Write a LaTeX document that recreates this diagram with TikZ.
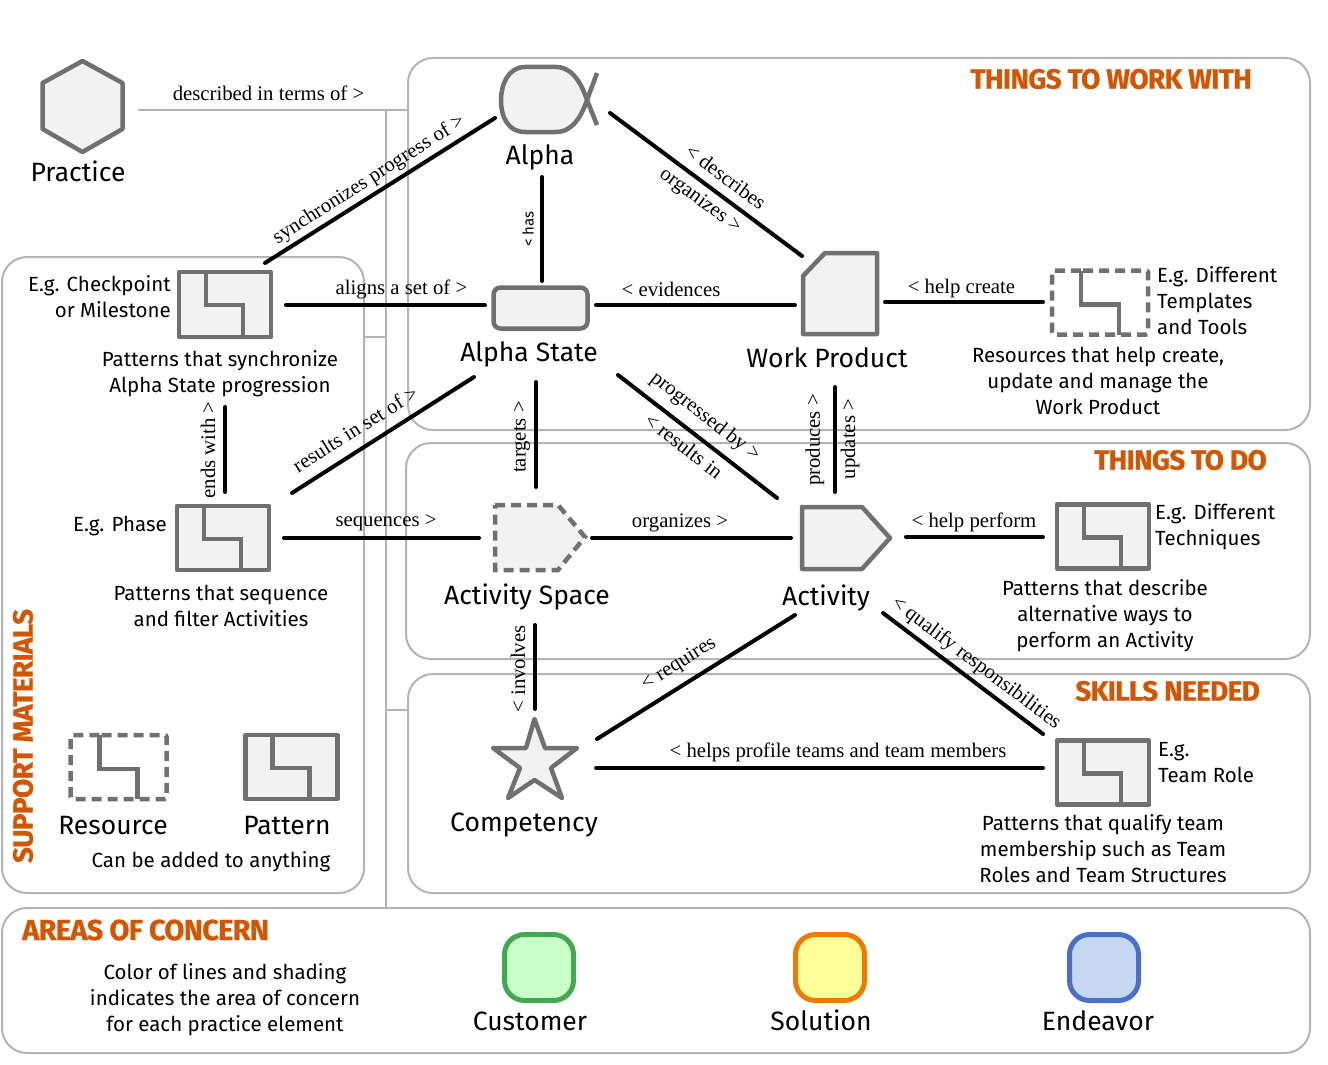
\documentclass[tikz,border=0pt]{standalone}
\usepackage{fontspec}
\setmainfont{Liberation Serif}
\setsansfont{Fira Sans}
\newfontfamily\titlefont[LetterSpace=-2.5,BoldFeatures={FakeBold=0.6}]{Fira Sans}
\usetikzlibrary{calc,shapes.geometric}
\definecolor{elemgray}{HTML}{707070}
\definecolor{elemfill}{HTML}{F2F2F2}
\definecolor{panelgray}{HTML}{B3B3B3}
\definecolor{titleorange}{HTML}{D45500}
\tikzset{
  x=1pt,y=-1pt,
  panel/.style={draw=panelgray,line width=2pt,rounded corners=25pt,fill=none},
  treeline/.style={draw=panelgray,line width=2pt},
  conn/.style={draw=black,line width=4pt,line cap=round},
  elem/.style={draw=elemgray,fill=elemfill,line width=4.5pt,line join=round},
  elemline/.style={draw=elemgray,line width=4.5pt,line join=miter},
  dashelem/.style={draw=elemgray,line width=4.5pt,dash pattern=on 10pt off 6pt},
  lbl/.style={inner sep=0pt,font=\rmfamily\fontsize{20.75}{24}\selectfont},
  big/.style={inner sep=0pt,font=\sffamily\fontsize{26.5}{32}\selectfont},
  txt/.style={inner sep=0pt,align=center,font=\sffamily\fontsize{20.5}{26}\selectfont},
  txtl/.style={inner sep=0pt,align=left,font=\sffamily\fontsize{20.5}{26}\selectfont},
  txtr/.style={inner sep=0pt,align=right,font=\sffamily\fontsize{20.5}{26}\selectfont},
  ttl/.style={inner sep=0pt,text=titleorange,font=\titlefont\bfseries\fontsize{28}{32}\selectfont},
  area/.style={line width=5pt,rounded corners=20pt,minimum width=69pt,minimum height=66pt,inner sep=0pt,outer sep=0pt},
}
% name, centre x, centre y, width, height
\newcommand{\PatternElem}[5]{%
  \node[elem,rectangle,minimum width=#4,minimum height=#5,inner sep=0pt,outer sep=0pt] (#1) at (#2,#3) {};
  \draw[elemline] ([shift={(27,0)}]#1.north west) -- ([shift={(27,33)}]#1.north west) -- ([shift={(64,33)}]#1.north west) -- ([shift={(64,0)}]#1.south west);
}
\newcommand{\ResourceElem}[5]{%
  \node[rectangle,minimum width=#4,minimum height=#5,inner sep=0pt,outer sep=0pt] (#1) at (#2,#3) {};
  \draw[dashelem,rounded corners=2pt] ([shift={(29,0)}]#1.north west) -- (#1.north east) -- (#1.south east) -- (#1.south west) -- (#1.north west) -- cycle;
  \draw[elemline] ([shift={(29,0)}]#1.north west) -- ([shift={(29,34)}]#1.north west) -- ([shift={(67,34)}]#1.north west) -- ([shift={(67,0)}]#1.south west);
}
\begin{document}
\begin{tikzpicture}
\useasboundingbox (0,0) rectangle (1328,1065);
% panels
\draw[panel] (408,58) rectangle (1310,430);
\draw[panel] (406,443) rectangle (1310,659);
\draw[panel] (408,674) rectangle (1310,893);
\draw[panel] (2,257) rectangle (364,893);
\draw[panel] (2,908) rectangle (1310,1053);
% tree lines
\coordinate (treeA) at (138,110);
\coordinate (treeB) at (408,110);
\coordinate (treeT) at (386,110);
\coordinate (treeBot) at (386,908);
\coordinate (treeS) at (364,337);
\coordinate (treeS2) at (386,337);
\coordinate (treeC) at (386,710);
\coordinate (treeC2) at (408,710);
\draw[treeline] (treeA) -- (treeB);
\draw[treeline] (treeT) -- (treeBot);
\draw[treeline] (treeS) -- (treeS2);
\draw[treeline] (treeC) -- (treeC2);
% Practice
\node[minimum width=82pt,minimum height=93pt,inner sep=0pt,outer sep=0pt] (practice) at (82.5,106.5) {};
\draw[elem] (82.5,61) -- (122.5,83) -- (122.5,129) -- (82.5,152) -- (42.5,129) -- (42.5,83) -- cycle;
% Alpha
\node[minimum width=96pt,minimum height=66pt,inner sep=0pt,outer sep=0pt] (alpha) at (549,100) {};
\fill[elemfill] (587,100) .. controls (582,85) and (573,67) .. (556,67) -- (525,67) .. controls (508,67) and (501,85) .. (501,100) .. controls (501,117) and (508,132) .. (525,132) -- (556,132) .. controls (573,132) and (582,115) .. (587,100) -- cycle;
\draw[elemline,line join=round] (597,125) -- (587,100) .. controls (582,85) and (573,67) .. (556,67) -- (525,67) .. controls (508,67) and (501,85) .. (501,100) .. controls (501,117) and (508,132) .. (525,132) -- (556,132) .. controls (573,132) and (582,115) .. (587,100) -- (597,73);
% Alpha state
\node[elem,rectangle,rounded corners=7pt,minimum width=94pt,minimum height=41pt,inner sep=0pt,outer sep=0pt] (alphastate) at (540.5,308) {};
% Work Product
\node[minimum width=76pt,minimum height=83pt,inner sep=0pt,outer sep=0pt] (workproduct) at (840.5,293) {};
\draw[elem] (825,253) -- (877,253) -- (877,334) -- (803,334) -- (803,276) -- cycle;
% Activity space
\node[minimum width=90pt,minimum height=65pt,inner sep=0pt,outer sep=0pt] (activityspace) at (540,537.5) {};
\fill[elemfill] (495,505) -- (558,505) -- (585,537) -- (558,570) -- (495,570) -- cycle;
\draw[dashelem] (495,505) -- (558,505) -- (585,537) -- (558,570) -- (495,570) -- cycle;
% Activity
\node[minimum width=90pt,minimum height=64pt,inner sep=0pt,outer sep=0pt] (activity) at (846,538) {};
\draw[elem] (802,507) -- (862,507) -- (890,538) -- (862,569) -- (802,569) -- cycle;
% Competency
\node[minimum width=87pt,minimum height=82pt,inner sep=0pt,outer sep=0pt] (competency) at (535,758) {};
\draw[elem] (534.5,719) -- (545,748) -- (577,748) -- (551,768) -- (562,798) -- (534.5,780) -- (508,798) -- (520,768) -- (493,748) -- (526,748) -- cycle;
% Patterns
\PatternElem{checkpoint}{225}{304.5}{92pt}{65pt}
\PatternElem{phase}{223}{538}{92pt}{64pt}
\PatternElem{technique}{1103}{536.5}{92pt}{64pt}
\PatternElem{teamrole}{1103}{772.5}{92pt}{64pt}
\PatternElem{legendpattern}{291.5}{767}{92pt}{64pt}
\ResourceElem{helpres}{1100}{302.5}{96pt}{64pt}
\ResourceElem{legendres}{118.5}{767}{96pt}{64pt}
% Areas
\node[area,draw={rgb,255:red,67;green,168;blue,83},fill={rgb,255:red,201;green,255;blue,201}] (customer) at (539,967.5) {};
\node[area,draw={rgb,255:red,239;green,122;blue,0},fill={rgb,255:red,255;green,255;blue,153}] (solution) at (830,967.5) {};
\node[area,draw={rgb,255:red,74;green,111;blue,201},fill={rgb,255:red,198;green,216;blue,240}] (endeavor) at (1104,967.5) {};
% Connectors
\draw[conn] ([shift={(40,-9)}]checkpoint.north) -- ([shift={(-6,18)}]alpha.west);
\draw[conn] ([shift={(13,13)}]alpha.east) -- ([shift={(-0.5,-37)}]workproduct.west);
\draw[conn] ([shift={(-7,44)}]alpha.south) -- ([shift={(1.5,-6.5)}]alphastate.north);
\draw[conn] ([shift={(15,0.5)}]checkpoint.east) -- ([shift={(-8.5,-3)}]alphastate.west);
\draw[conn] ([shift={(8.5,-3)}]alphastate.east) -- ([shift={(-7.5,12)}]workproduct.west);
\draw[conn] ([shift={(6.5,9)}]workproduct.east) -- ([shift={(-9,-0.5)}]helpres.west);
\draw[conn] ([shift={(-66.5,48.5)}]alphastate.south) -- ([shift={(69,-13)}]phase.north);
\draw[conn] ([shift={(-4.5,53.5)}]alphastate.south) -- ([shift={(-4,-18)}]activityspace.north);
\draw[conn] ([shift={(77.5,46.5)}]alphastate.south) -- ([shift={(-69,-8)}]activity.north);
\draw[conn] ([shift={(-5.5,52.5)}]workproduct.south) -- ([shift={(-11,-14)}]activity.north);
\draw[conn] ([shift={(0,70)}]checkpoint.south) -- ([shift={(2,-14)}]phase.north);
\draw[conn] ([shift={(15,0)}]phase.east) -- ([shift={(-16,0.5)}]activityspace.west);
\draw[conn] ([shift={(7,0.5)}]activityspace.east) -- ([shift={(-10,0)}]activity.west);
\draw[conn] ([shift={(15,-1)}]activity.east) -- ([shift={(-14,0.5)}]technique.west);
\draw[conn] ([shift={(-5,55)}]activityspace.south) -- ([shift={(0,-8)}]competency.north);
\draw[conn] ([shift={(-51,45)}]activity.south) -- ([shift={(18.5,22)}]competency.north east);
\draw[conn] ([shift={(17.5,10)}]competency.east) -- ([shift={(-14,-4.5)}]teamrole.west);
\draw[conn] ([shift={(37,43)}]activity.south) -- ([shift={(-14,-6.5)}]teamrole.north west);
% Connector labels
\node[lbl] (l1) at (268.5,93) {described in terms of >};
\node[lbl,rotate=32.5] (l2) at (369,180) {synchronizes progress of >};
\node[inner sep=0pt,rotate=90,font=\sffamily\fontsize{15}{18}\selectfont] (l3) at (528,229) {< has};
\node[lbl] (l4) at (401.5,289) {aligns a set of >};
\node[lbl] (l5) at (671,289) {< evidences};
\node[lbl] (l6) at (961.5,289) {< help create};
\node[lbl,rotate=-36.5] (l7) at (726,177) {< describes};
\node[lbl,rotate=-36.5] (l8) at (700,201) {organizes >};
\node[lbl,rotate=32] (l9) at (355,429) {results in set of >};
\node[lbl,rotate=90] (l10) at (522,437) {targets >};
\node[lbl,rotate=-38] (l11) at (705,417) {progressed by >};
\node[lbl,rotate=-38] (l12) at (684,446) {< results in};
\node[lbl,rotate=90] (l13) at (815,440) {produces >};
\node[lbl,rotate=90] (l14) at (850,439) {updates >};
\node[lbl,rotate=90] (l15) at (208,450) {ends with >};
\node[lbl] (l16) at (386,523) {sequences >};
\node[lbl] (l17) at (680,523) {organizes >};
\node[lbl] (l18) at (974,522) {< help perform};
\node[lbl,rotate=90] (l19) at (518,669) {< involves};
\node[lbl,rotate=32] (l20) at (679,664) {< requires};
\node[lbl] (l21) at (838,752) {< helps profile teams and team members};
\node[lbl,rotate=-37] (l22) at (976,663.5) {< qualify responsibilities};
% Titles
\node[ttl,anchor=east] (t1) at (1252,79) {THINGS TO WORK WITH};
\node[ttl,anchor=east] (t2) at (1267,460) {THINGS TO DO};
\node[ttl,anchor=east] (t3) at (1260,691) {SKILLS NEEDED};
\node[ttl,rotate=90] (t4) at (23,736) {SUPPORT MATERIALS};
\node[ttl,anchor=west,font=\titlefont\bfseries\fontsize{29}{32}\selectfont] (t5) at (22,930) {AREAS OF CONCERN};
% Element names
\node[big] (n1) at (78,171) {Practice};
\node[big] (n2) at (540,157) {Alpha};
\node[big] (n3) at (529,354) {Alpha State};
\node[big] (n4) at (827,358) {Work Product};
\node[big] (n5) at (527,597) {Activity Space};
\node[big] (n6) at (826,598) {Activity};
\node[big] (n7) at (524,825) {Competency};
\node[big] (n8) at (113,826) {Resource};
\node[big] (n9) at (287,826) {Pattern};
\node[big] (n10) at (530,1021) {Customer};
\node[big] (n11) at (821,1020) {Solution};
\node[big] (n12) at (1098,1021) {Endeavor};
% Descriptions
\node[txtr,anchor=east] (d1) at (171,297) {E.g. Checkpoint\\or Milestone};
\node[txt] (d2) at (220,374) {Patterns that synchronize\\Alpha State progression};
\node[txtl,anchor=east] (d3) at (167,526) {E.g. Phase};
\node[txt] (d4) at (221,606) {Patterns that sequence\\and filter Activities};
\node[txt] (d5) at (211,862) {Can be added to anything};
\node[txtl,anchor=west] (d6) at (1157,301) {E.g. Different\\Templates\\and Tools};
\node[txt] (d7) at (1098,381) {Resources that help create,\\update and manage the\\Work Product};
\node[txtl,anchor=west] (d8) at (1155,527) {E.g. Different\\Techniques};
\node[txt] (d9) at (1105,616) {Patterns that describe\\alternative ways to\\perform an Activity};
\node[txtl,anchor=west] (d10) at (1158,763) {E.g.\\Team Role};
\node[txt] (d11) at (1103,849) {Patterns that qualify team\\membership such as Team\\Roles and Team Structures};
\node[txt] (d12) at (225,1000) {Color of lines and shading\\indicates the area of concern\\for each practice element};
\end{tikzpicture}
\end{document}
